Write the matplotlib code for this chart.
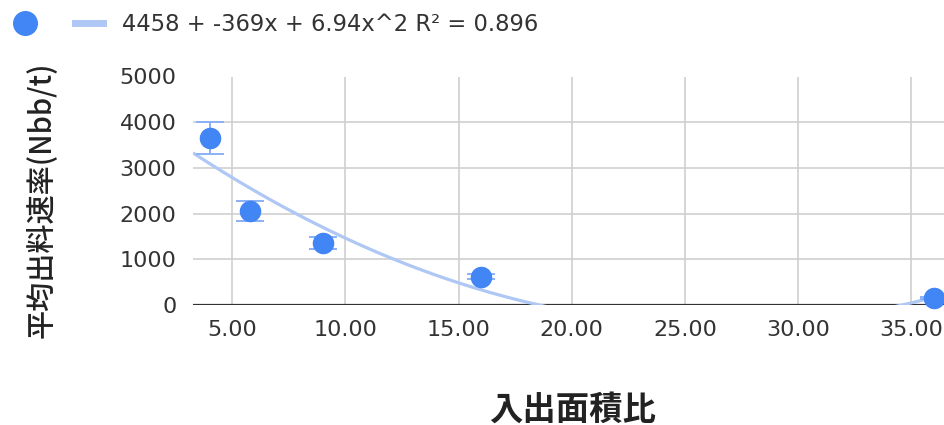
import numpy as np
import matplotlib
matplotlib.use("Agg")
import matplotlib.pyplot as plt
from matplotlib.lines import Line2D

# Area ratio vs. average discharge rate
area_ratio = [4.0, 5.76, 9.0, 16.0, 36.0]
mean_rate = [3660, 2050, 1360, 620, 145]
rate_err = [350, 215, 135, 60, 20]

# Quadratic trendline coefficients (c0 + c1*x + c2*x^2) and fit quality
trend_coef = [4458, -369, 6.94]
r_squared = 0.896

x_ticks = [5, 10, 15, 20, 25, 30, 35]
y_ticks = [0, 1000, 2000, 3000, 4000, 5000]

x_title = "入出面積比"
y_title = "平均出料速率(Nbb/t)"
eq_label = f"{trend_coef[0]} + {trend_coef[1]}x + {trend_coef[2]}x^2 R² = {r_squared}"

W, H = 945, 425
fig = plt.figure(figsize=(W / 100, H / 100), dpi=100)
ax = fig.add_axes([193 / W, 1 - 305 / H, 1 - 193 / W, (305 - 76.5) / H])

num_font = ["DejaVu Sans"]
cjk_font = ["Noto Sans CJK JP", "DejaVu Sans"]

blue = "#4285F4"
err_blue = "#8AB0F5"
trend_blue = "#AFC7F5"

xmin, xmax = 3.26, 36.5
ax.set_xlim(xmin, xmax)
ax.set_ylim(0, 5000)

# trendline
xs = np.linspace(xmin, xmax, 400)
ys = trend_coef[0] + trend_coef[1] * xs + trend_coef[2] * xs ** 2
ax.plot(xs, ys, color=trend_blue, lw=2.3, zorder=2, solid_capstyle="butt")

# points with error bars
ax.errorbar(area_ratio, mean_rate, yerr=rate_err, fmt="none", ecolor=err_blue,
            elinewidth=1.4, capsize=10, capthick=1.4, zorder=3)
ax.plot(area_ratio, mean_rate, "o", color=blue, ms=14.5, mec=blue, zorder=4,
        clip_on=False)

ax.set_xticks(x_ticks)
ax.set_xticklabels([f"{v:.2f}" for v in x_ticks])
ax.set_yticks(y_ticks)
ax.set_yticklabels([str(v) for v in y_ticks])
for lab in ax.get_xticklabels() + ax.get_yticklabels():
    lab.set_family(num_font)
    lab.set_fontsize(16)
    lab.set_color("#333333")
ax.tick_params(axis="both", length=0)
ax.tick_params(axis="x", pad=11)
ax.tick_params(axis="y", pad=12)

ax.grid(True, color="#cfcfcf", lw=1.2)
ax.set_axisbelow(True)
for s in ax.spines.values():
    s.set_visible(False)
ax.axhline(0, color="#333333", lw=1.6, zorder=1.5)

fig.text(573 / W, 1 - 410 / H, x_title, ha="center", va="center",
         fontsize=24, fontweight="bold", family=cjk_font, color="#222222")
fig.text(42 / W, 1 - 200 / H, y_title, ha="center", va="center", rotation=90,
         fontsize=21, fontweight="medium", family=cjk_font, color="#222222")

h_pt = Line2D([], [], ls="none", marker="o", color=blue, ms=17)
h_ln = Line2D([], [], color=trend_blue, lw=5)
fig.legend([h_pt, h_ln], ["", eq_label], ncol=2, loc="upper left",
           bbox_to_anchor=(11 / W, 1 - 13 / H), frameon=False,
           prop={"family": num_font, "size": 16.3}, handlelength=1.23,
           handletextpad=0.84, columnspacing=0.75, borderpad=0, borderaxespad=0,
           labelcolor="#333333")

fig.savefig("out.png", dpi=100)
